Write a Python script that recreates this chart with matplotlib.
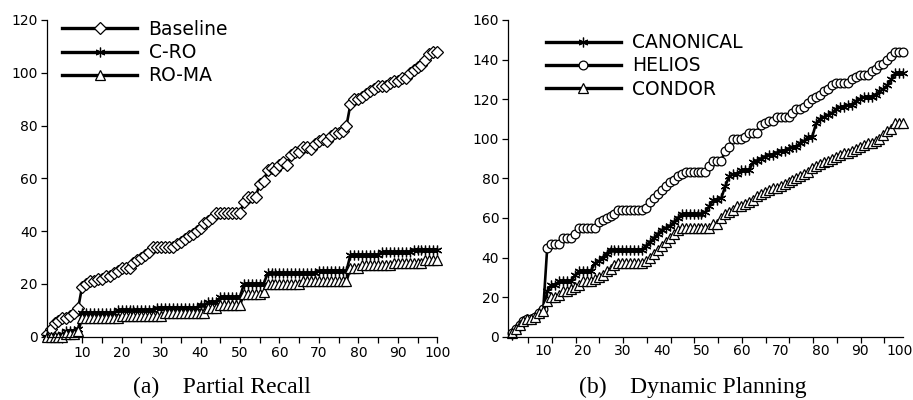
import matplotlib
matplotlib.use("Agg")
import matplotlib.pyplot as plt
import numpy as np

# (a) Partial Recall
x_a = np.arange(1, 101)
baseline = [1, 3, 5, 6, 7, 7, 8, 9, 11, 19,
            20, 21, 21, 22, 22, 23, 23, 24, 25, 26,
            26, 26, 28, 29, 30, 31, 32, 34, 34, 34,
            34, 34, 34, 35, 36, 37, 38, 39, 40, 41,
            43, 44, 45, 47, 47, 47, 47, 47, 47, 47,
            51, 53, 53, 53, 58, 59, 63, 64, 63, 65,
            66, 65, 69, 70, 70, 72, 72, 71, 73, 74,
            75, 74, 76, 77, 77, 78, 80, 88, 90, 90,
            91, 92, 93, 94, 95, 95, 95, 96, 97, 97,
            98, 98, 100, 101, 102, 103, 105, 107, 108, 108]
c_ro = [0, 0, 0, 0, 1, 2, 2, 2, 3, 9,
        9, 9, 9, 9, 9, 9, 9, 9, 10, 10,
        10, 10, 10, 10, 10, 10, 10, 10, 11, 11,
        11, 11, 11, 11, 11, 11, 11, 11, 11, 12,
        12, 13, 13, 13, 15, 15, 15, 15, 15, 15,
        20, 20, 20, 20, 20, 20, 24, 24, 24, 24,
        24, 24, 24, 24, 24, 24, 24, 24, 24, 25,
        25, 25, 25, 25, 25, 25, 25, 31, 31, 31,
        31, 31, 31, 31, 31, 32, 32, 32, 32, 32,
        32, 32, 32, 33, 33, 33, 33, 33, 33, 33]
ro_ma = [0, 0, 0, 0, 0, 1, 1, 1, 2, 7,
         7, 7, 7, 7, 7, 7, 7, 7, 7, 8,
         8, 8, 8, 8, 8, 8, 8, 8, 8, 8,
         9, 9, 9, 9, 9, 9, 9, 9, 9, 9,
         9, 11, 11, 11, 12, 12, 12, 12, 12, 12,
         16, 16, 16, 16, 16, 17, 20, 20, 20, 20,
         20, 20, 20, 20, 20, 21, 21, 21, 21, 21,
         21, 21, 21, 21, 21, 21, 21, 26, 26, 26,
         27, 27, 27, 27, 27, 27, 27, 27, 28, 28,
         28, 28, 28, 28, 28, 28, 29, 29, 29, 29]

# (b) Dynamic Planning
x_b = np.arange(1, 101)
canonical = [1, 3, 5, 7, 9, 9, 10, 11, 12, 23,
             26, 26, 28, 28, 28, 28, 31, 33, 33, 33,
             33, 37, 38, 40, 42, 44, 44, 44, 44, 44,
             44, 44, 44, 44, 46, 48, 50, 52, 54, 55,
             56, 58, 60, 62, 62, 62, 62, 62, 62, 63,
             66, 69, 69, 70, 76, 81, 82, 82, 84, 84,
             84, 88, 89, 90, 91, 92, 92, 93, 94, 94,
             95, 96, 96, 98, 99, 101, 101, 108, 110, 111,
             112, 113, 115, 116, 116, 117, 117, 119, 120, 121,
             121, 121, 122, 124, 125, 127, 130, 133, 133, 133]
helios = [2, 4, 6, 8, 9, 9, 10, 12, 14, 45,
          47, 47, 47, 50, 50, 50, 52, 55, 55, 55,
          55, 55, 58, 59, 60, 61, 62, 64, 64, 64,
          64, 64, 64, 64, 65, 68, 70, 72, 74, 76,
          78, 79, 81, 82, 83, 83, 83, 83, 83, 83,
          86, 89, 89, 89, 94, 96, 100, 100, 100, 101,
          103, 103, 103, 107, 108, 109, 109, 111, 111, 111,
          111, 113, 115, 115, 116, 118, 120, 121, 122, 124,
          125, 127, 128, 128, 128, 128, 130, 131, 132, 132,
          132, 134, 135, 137, 138, 140, 142, 144, 144, 144]
condor = [2, 4, 6, 8, 9, 9, 10, 12, 13, 18,
          20, 20, 21, 23, 23, 24, 25, 26, 28, 28,
          28, 29, 30, 31, 33, 34, 36, 37, 37, 37,
          37, 37, 37, 37, 38, 40, 42, 44, 46, 48,
          50, 52, 54, 55, 55, 55, 55, 55, 55, 55,
          55, 57, 57, 60, 62, 63, 64, 66, 66, 67,
          68, 69, 71, 72, 73, 74, 75, 75, 76, 77,
          78, 79, 80, 81, 82, 83, 85, 86, 87, 88,
          89, 90, 91, 92, 93, 93, 94, 95, 96, 97,
          98, 98, 99, 100, 102, 104, 105, 108, 108, 108]

star = (6, 2, 0)

fig = plt.figure(figsize=(9.13, 4.0), dpi=100)
ax1 = fig.add_axes([0.0511, 0.1583, 0.4278, 0.7918])
ax2 = fig.add_axes([0.5567, 0.1583, 0.4326, 0.7918])

style = dict(color='black', lw=1.9, mfc='white', mec='black', mew=0.9, clip_on=False)

ax1.plot(x_a, baseline, marker='D', ms=6, label='Baseline', **style)
ax1.plot(x_a, c_ro, marker=star, ms=7, label='C-RO', **style)
ax1.plot(x_a, ro_ma, marker='^', ms=7.5, label='RO-MA', **style)

ax2.plot(x_b, canonical, marker=star, ms=7, label='CANONICAL', **style)
ax2.plot(x_b, helios, marker='o', ms=6.3, label='HELIOS', **style)
ax2.plot(x_b, condor, marker='^', ms=6.8, label='CONDOR', **style)

ax1.set_xlim(1, 100)
ax1.set_ylim(0, 120)
ax1.set_yticks(np.arange(0, 121, 20))
ax1.set_xticks(np.arange(10, 101, 10))
ax1.set_xticks(np.arange(5, 101, 10), minor=True)

ax2.set_xlim(0.15, 100)
ax2.set_ylim(0, 160)
ax2.set_yticks(np.arange(0, 161, 20))
ax2.set_xticks(np.arange(10, 101, 10) - 0.9)
ax2.set_xticklabels([str(v) for v in range(10, 101, 10)])
ax2.set_xticks(np.arange(6, 97, 6) - 0.8, minor=True)

for ax in (ax1, ax2):
    ax.spines['top'].set_visible(False)
    ax.spines['right'].set_visible(False)
    ax.spines['left'].set_linewidth(0.9)
    ax.spines['bottom'].set_linewidth(0.9)
    ax.tick_params(axis='both', which='both', direction='out', length=4.5,
                   width=0.9, labelsize=10, pad=2)

ax2.tick_params(axis='x', which='major', length=0, pad=5.5)

leg_kw = dict(loc='upper left', frameon=False, fontsize=13.5, handlelength=4.0,
              handletextpad=0.6, labelspacing=0.22, borderpad=0, borderaxespad=0)
for h in ax1.legend(bbox_to_anchor=(0.04, 1.0), **leg_kw).get_lines():
    h.set_linewidth(2.4)
for h in ax2.legend(bbox_to_anchor=(0.095, 0.958), **leg_kw).get_lines():
    h.set_linewidth(2.4)

fig.text(0.243, 0.004, '(a)    Partial Recall', ha='center', va='bottom',
         fontsize=17, family='Liberation Serif')
fig.text(0.759, 0.004, '(b)    Dynamic Planning', ha='center', va='bottom',
         fontsize=17, family='Liberation Serif')

fig.savefig('out.png', dpi=100)
